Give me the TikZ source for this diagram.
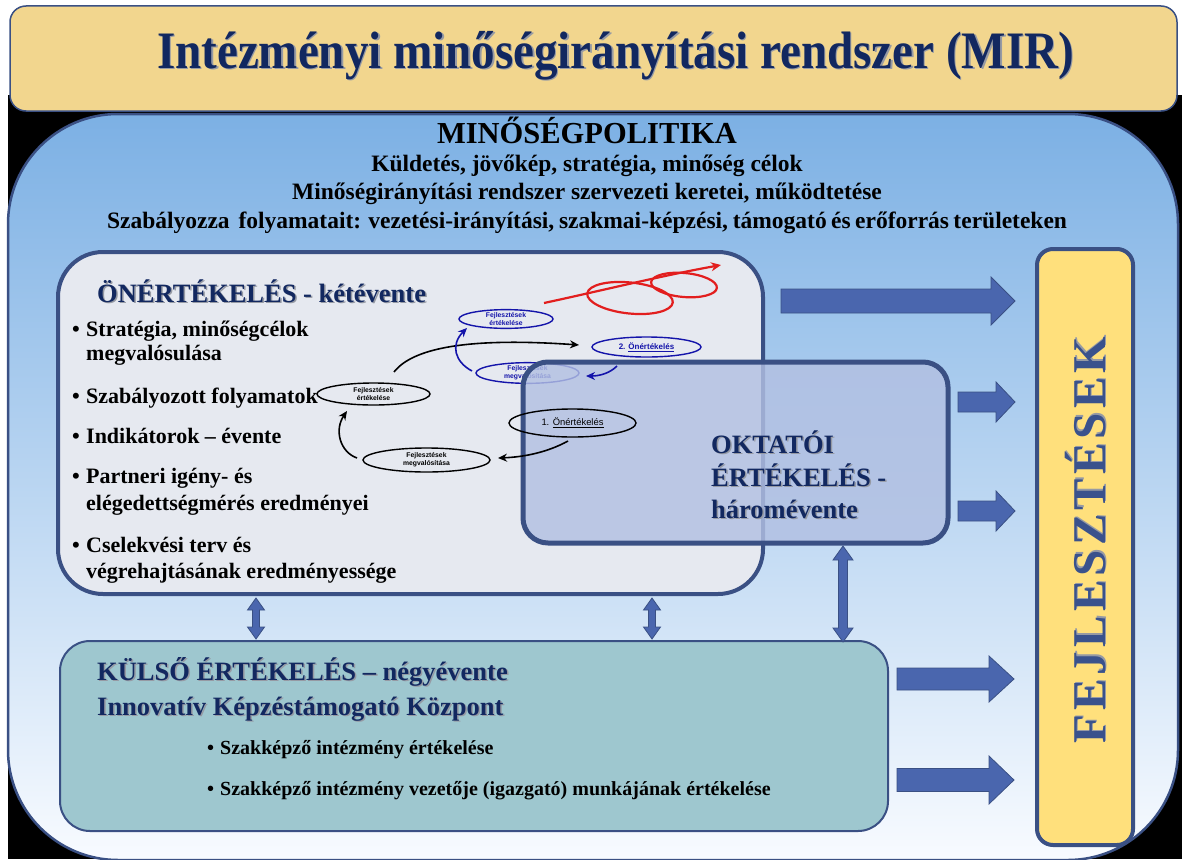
\documentclass[tikz,border=0pt]{standalone}
\usepackage{fontspec}
\setmainfont{Liberation Serif}
\newfontfamily\sansf{Liberation Sans}
\newfontfamily\spacedf[LetterSpace=9]{Liberation Serif}
\usetikzlibrary{arrows.meta,shapes.geometric}
\definecolor{navy}{RGB}{18,40,96}
\definecolor{fejcol}{RGB}{58,82,140}
\definecolor{shadowc}{RGB}{150,154,164}
\definecolor{titlefill}{RGB}{242,214,142}
\definecolor{boxbord}{RGB}{58,80,132}
\definecolor{skytop}{RGB}{124,176,228}
\definecolor{skybot}{RGB}{248,251,255}
\definecolor{onfill}{RGB}{230,233,240}
\definecolor{oktfill}{RGB}{178,192,226}
\definecolor{kulfill}{RGB}{158,199,207}
\definecolor{fejfill}{RGB}{255,224,124}
\definecolor{arrfill}{RGB}{74,102,174}
\definecolor{ellblue}{RGB}{20,20,170}
\definecolor{spred}{RGB}{226,30,30}
\newcommand\shd[1]{\leavevmode\rlap{\kern1.5pt\raisebox{-1.5pt}{\textcolor{shadowc}{#1}}}#1}
\newcommand\blkarrow[6]{% x1, xhead, xtip, yc, body half, head half
  \draw[blockarr] (#1,#4-#5) -- (#2,#4-#5) -- (#2,#4-#6) -- (#3,#4) -- (#2,#4+#6) -- (#2,#4+#5) -- (#1,#4+#5) -- cycle;}
\newcommand\vdblarrow[6]{% x, ytop, ybottom, shaft half, head half, head length
  \draw[blockarr] (#1-#4,#2+#6) -- (#1-#5,#2+#6) -- (#1,#2) -- (#1+#5,#2+#6) -- (#1+#4,#2+#6) -- (#1+#4,#3-#6) -- (#1+#5,#3-#6) -- (#1,#3) -- (#1-#5,#3-#6) -- (#1-#4,#3-#6) -- cycle;}
\begin{document}
\begin{tikzpicture}[x=1pt,y=-1pt,
  txt/.style={inner sep=0pt, anchor=base west},
  ctxt/.style={inner sep=0pt, anchor=base},
  ell/.style={ellipse, draw, line width=1.4pt, inner sep=0pt, align=center, font=\sansf\bfseries\fontsize{6.8}{8.2}\selectfont},
  blkarr/.style={draw=black, line width=1.6pt, -{Stealth[length=9pt,width=8pt]}},
  bluarr/.style={draw=ellblue, line width=1.6pt, -{Stealth[length=9pt,width=8pt]}},
  blockarr/.style={fill=arrfill, draw=boxbord, line width=0.8pt},
  navyt/.style={text=navy, font=\bfseries\fontsize{26.5}{28}\selectfont},
  bult/.style={font=\bfseries\fontsize{22}{24}\selectfont},
  kult/.style={font=\bfseries\fontsize{20}{22}\selectfont},
]
\useasboundingbox (0,0) rectangle (1182,859);
\fill[white] (0,0) rectangle (1182,859);
\fill[black] (8,95) rectangle (1182,859);

% title
\node[draw=boxbord, line width=1.5pt, fill=titlefill, rounded corners=16pt, minimum width=1167pt, minimum height=105pt, inner sep=0pt] (titlebox) at (593.5,58.5) {};
\node[ctxt, text=navy, font=\bfseries\fontsize{47}{50}\selectfont] (title) at (615.5,68) {\scalebox{1}[1.12]{\shd{Intézményi minőségirányítási rendszer (MIR)}}};

% main panel
\node[draw=boxbord, line width=2.5pt, top color=skytop, bottom color=skybot, rounded corners=110pt, minimum width=1170pt, minimum height=746pt, inner sep=0pt] (panel) at (593,487) {};

\node[ctxt, font=\bfseries\fontsize{30.5}{32}\selectfont] (mp) at (587,143) {MINŐSÉGPOLITIKA};
\node[ctxt, font=\bfseries\fontsize{23.5}{25}\selectfont] (mp1) at (587,171) {Küldetés, jövőkép, stratégia, minőség célok};
\node[ctxt, font=\bfseries\fontsize{23.5}{25}\selectfont] (mp2) at (587,199) {Minőségirányítási rendszer szervezeti keretei, működtetése};
\node[ctxt, font=\bfseries\fontsize{23.5}{25}\selectfont] (mp3) at (587,228) {\makebox[960pt][s]{Szabályozza\ \ folyamatait: vezetési-irányítási, szakmai-képzési, támogató és erőforrás területeken}};

% Önértékelés box
\node[draw=boxbord, line width=4pt, fill=onfill, rounded corners=45pt, minimum width=705pt, minimum height=342pt, inner sep=0pt] (onbox) at (410.5,423) {};
\node[txt, navyt] (ontitle) at (97,302) {\shd{ÖNÉRTÉKELÉS - kétévente}};
\node[txt, bult] (b1) at (72,336) {•};
\node[txt, bult] (b1a) at (86,336) {Stratégia, minőségcélok};
\node[txt, bult] (b1b) at (86,360) {megvalósulása};
\node[txt, bult] (b2) at (72,403) {•};
\node[txt, bult] (b2a) at (86,403) {Szabályozott folyamatok};
\node[txt, bult] (b3) at (72,443) {•};
\node[txt, bult] (b3a) at (86,443) {Indikátorok – évente};
\node[txt, bult] (b4) at (72,483) {•};
\node[txt, bult] (b4a) at (86,483) {Partneri igény- és};
\node[txt, bult] (b4b) at (86,510) {elégedettségmérés eredményei};
\node[txt, bult] (b5) at (72,552) {•};
\node[txt, bult] (b5a) at (86,552) {Cselekvési terv és};
\node[txt, bult] (b5b) at (86,578) {végrehajtásának eredményessége};

% spiral ellipses (under the Oktatói box)
\node[ell, minimum width=113pt, minimum height=22pt] (fe1) at (373.5,394) {Fejlesztések\\értékelése};
\node[ell, minimum width=127pt, minimum height=24pt] (fm1) at (426.5,460) {Fejlesztések\\megvalósítása};
\node[ell, draw=ellblue, text=ellblue, minimum width=94pt, minimum height=18pt] (fe2) at (506,319) {Fejlesztések\\értékelése};
\node[ell, draw=ellblue, text=ellblue, minimum width=103pt, minimum height=20pt] (fm2) at (527.5,373) {Fejlesztések\\megvalósítása};
\node[ell, draw=ellblue, text=ellblue, minimum width=109pt, minimum height=20pt, font=\sansf\bfseries\fontsize{8}{9}\selectfont] (o2) at (646.5,347) {2. \underline{Önértékelés}};

% Oktatói box (semi-transparent)
\node[draw=boxbord, line width=5pt, fill=oktfill, fill opacity=0.82, rounded corners=25pt, minimum width=425pt, minimum height=181pt, inner sep=0pt] (oktbox) at (735.5,452.5) {};
\node[txt, navyt] (okt1) at (711,453) {\shd{OKTATÓI}};
\node[txt, navyt] (okt2) at (711,486) {\shd{ÉRTÉKELÉS -}};
\node[txt, navyt] (okt3) at (711,518) {\shd{háromévente}};

\node[ell, minimum width=127pt, minimum height=28pt, font=\sansf\fontsize{9.4}{10}\selectfont] (o1) at (572.5,423) {1. \underline{Önértékelés}};

% spiral arrows
\coordinate (a1s) at (568,441); \coordinate (a1e) at (498,458);
\coordinate (a2s) at (357,458); \coordinate (a2e) at (347,411);
\coordinate (a3s) at (394,372); \coordinate (a3e) at (579,345);
\coordinate (b1s) at (617,366); \coordinate (b1e) at (586,376);
\coordinate (b2s) at (472,371); \coordinate (b2e) at (467,328);
\coordinate (rs) at (544,303); \coordinate (re) at (721,265);
\draw[blkarr] (a1s) .. controls (548,452) and (525,457) .. (a1e);
\draw[blkarr] (a2s) .. controls (340,452) and (334,430) .. (a2e);
\draw[blkarr] (a3s) .. controls (415,345) and (480,338) .. (a3e);
\draw[bluarr] (b1s) .. controls (610,373) and (600,376) .. (b1e);
\draw[bluarr] (b2s) .. controls (455,362) and (450,345) .. (b2e);
\draw[draw=spred, line width=2.2pt, -{Stealth[length=10pt,width=9pt]}] (rs) .. controls (600,291) and (660,276) .. (re);
\draw[draw=spred, line width=2.2pt, rotate around={-6:(630,298)}] (630,298) ellipse[x radius=43, y radius=15.5];
\draw[draw=spred, line width=2.2pt, rotate around={-5:(684,285)}] (684,285) ellipse[x radius=33, y radius=12];

% Külső box
\node[draw=boxbord, line width=2pt, fill=kulfill, rounded corners=30pt, minimum width=828pt, minimum height=190pt, inner sep=0pt] (kulbox) at (474,736) {};
\node[txt, navyt] (kul1) at (97,680) {\shd{KÜLSŐ ÉRTÉKELÉS – négyévente}};
\node[txt, navyt] (kul2) at (97,715) {\shd{Innovatív Képzéstámogató Központ}};
\node[txt, kult] (k1) at (207,754) {•};
\node[txt, kult] (k1a) at (220,754) {Szakképző intézmény értékelése};
\node[txt, kult] (k2) at (207,795) {•};
\node[txt, kult] (k2a) at (220,795) {Szakképző intézmény vezetője (igazgató) munkájának értékelése};

% Fejlesztések box
\node[draw=boxbord, line width=4pt, fill=fejfill, rounded corners=16pt, minimum width=96pt, minimum height=596pt, inner sep=0pt] (fejbox) at (1085,547) {};
\node[rotate=90, inner sep=0pt, text=fejcol, font=\spacedf\bfseries\fontsize{47}{50}\selectfont] (fej) at (1086,540) {\shd{FEJLESZTÉSEK}};

% block arrows
\blkarrow{781}{991}{1015}{301}{12}{24}
\blkarrow{958}{996}{1015}{402}{10}{20}
\blkarrow{958}{996}{1015}{511}{10}{20}
\blkarrow{897}{989}{1014}{679}{11}{23}
\blkarrow{897}{989}{1014}{780}{11.5}{24}

% vertical double arrows
\vdblarrow{256}{598}{639}{3.5}{8.5}{12}
\vdblarrow{652}{598}{639}{3.5}{8.5}{12}
\vdblarrow{843}{546}{642}{4.5}{10}{14}
\end{tikzpicture}
\end{document}
